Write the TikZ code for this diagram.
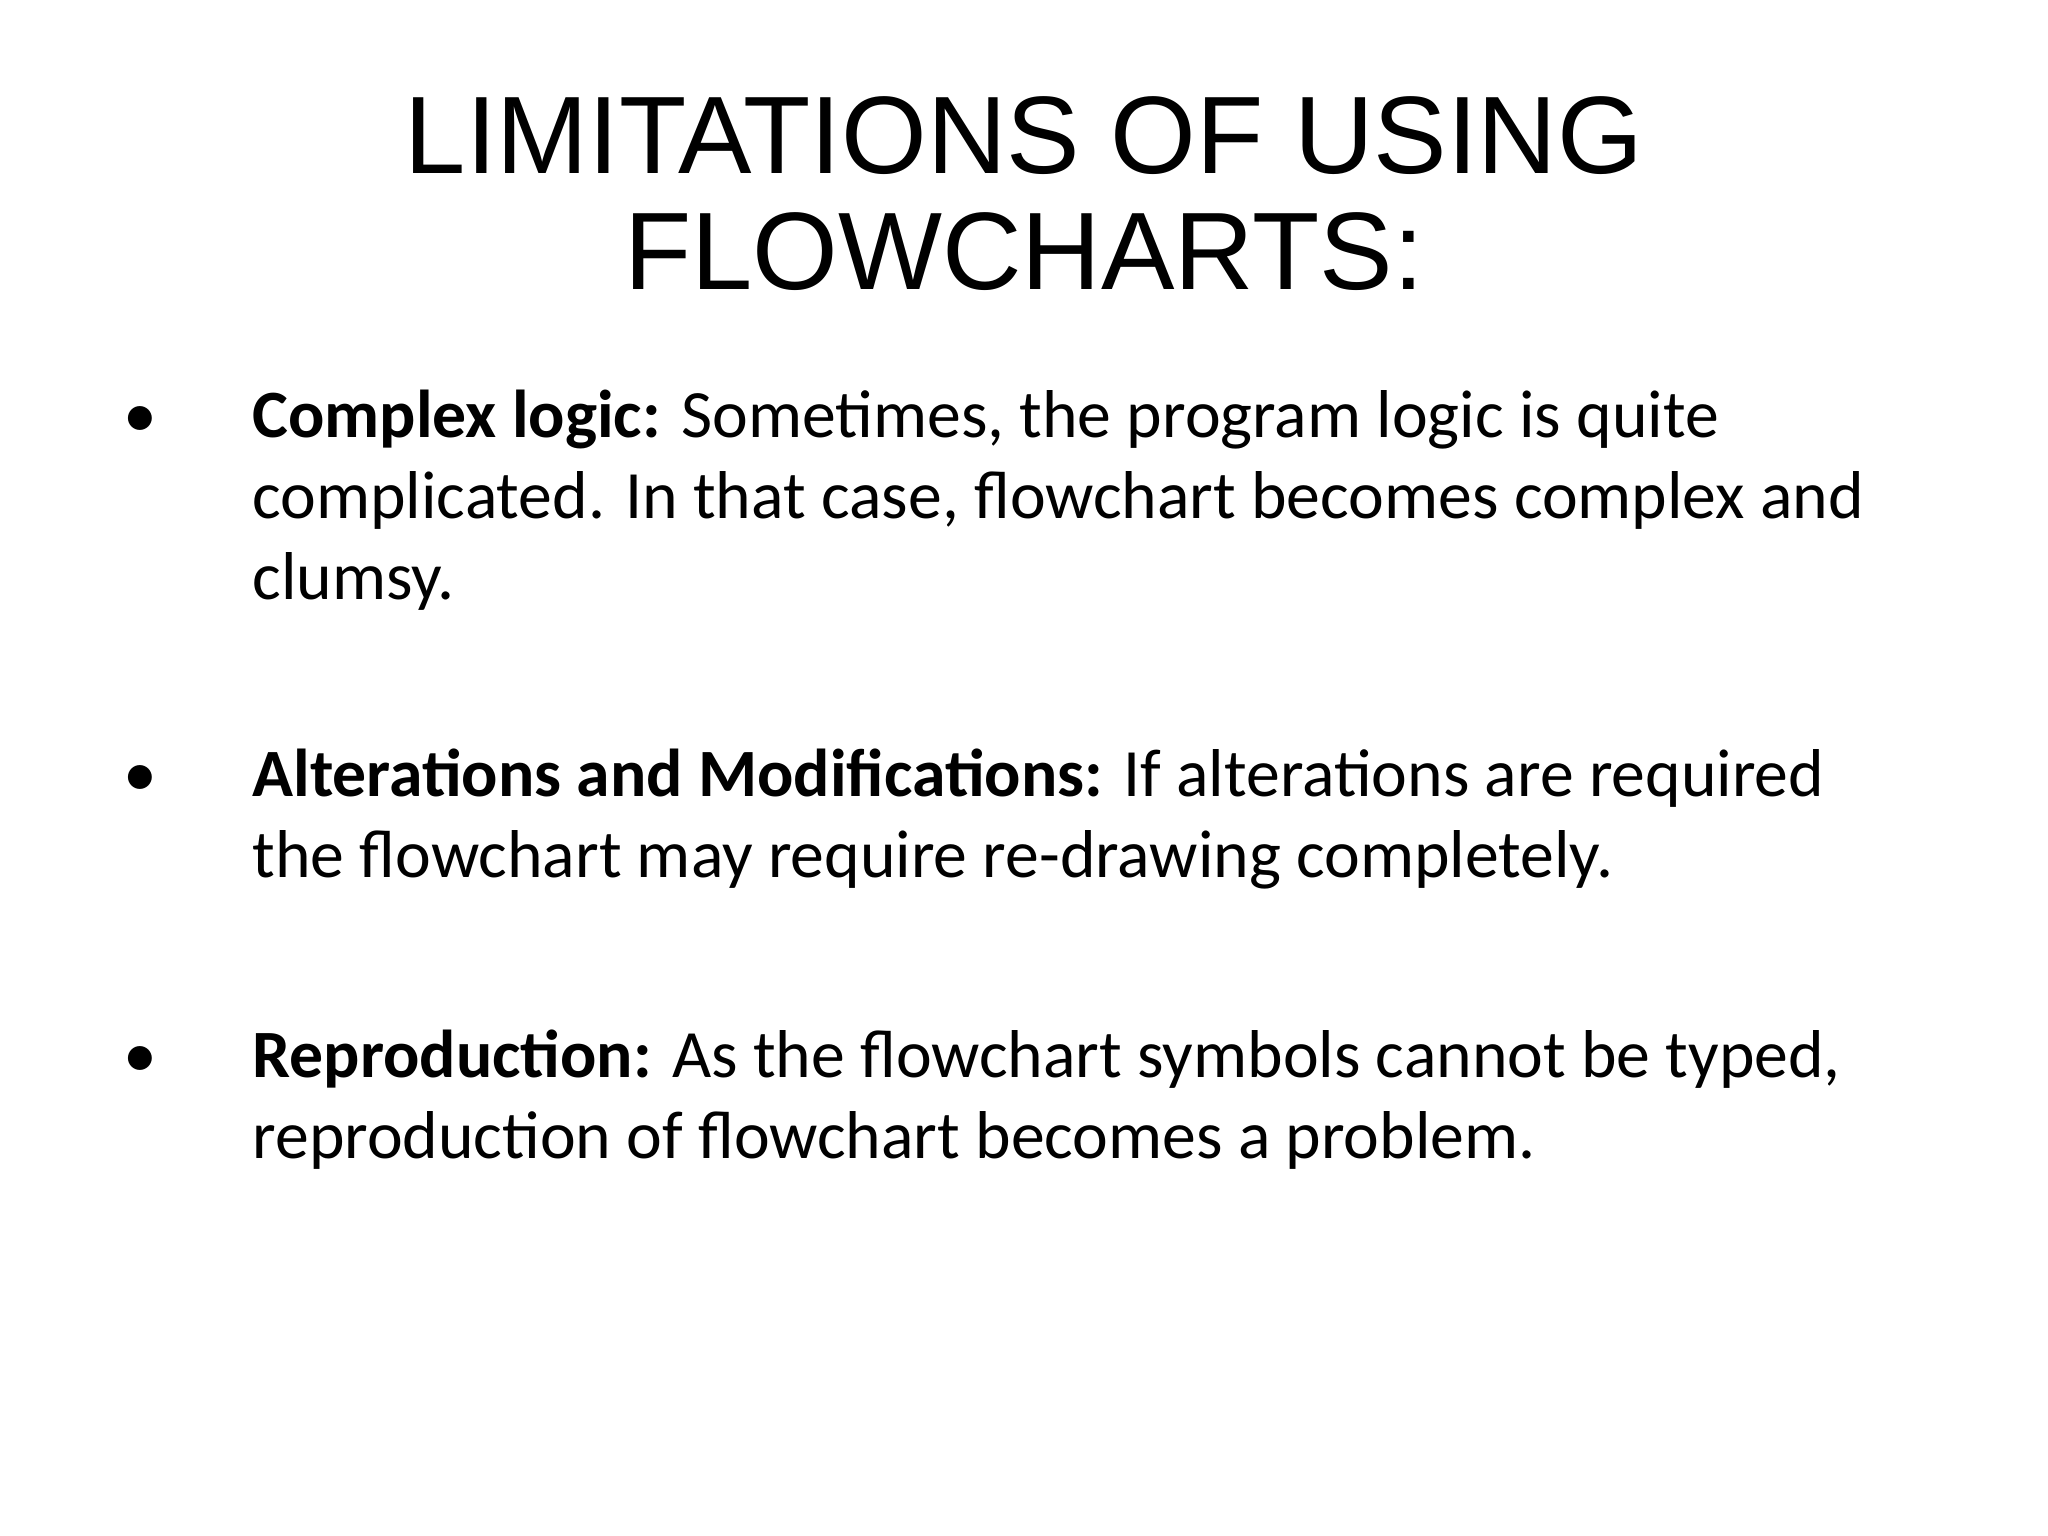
\documentclass[tikz,border=0pt]{standalone}
\usepackage{fontspec}
\setmainfont{Carlito}
\newfontfamily\titlefont{Liberation Sans}
\begin{document}
\begin{tikzpicture}[x=0.02cm,y=-0.02cm,
  ttl/.style={font=\titlefont\fontsize{48}{50}\selectfont,anchor=base,inner sep=0},
  body/.style={font=\fontsize{29.5}{35}\selectfont,anchor=base west,inner sep=0},
  bul/.style={font=\fontsize{29.5}{35}\selectfont,anchor=base west,inner sep=0}]
\useasboundingbox[fill=white] (0,0) rectangle (1568,1176);
\node[ttl] (t1) at (784,133) {LIMITATIONS OF USING};
\node[ttl] (t2) at (784,222) {FLOWCHARTS:};
\node[bul] (b1) at (94,335) {•};
\node[body] (l1) at (193,335) {\textbf{Complex logic:} Sometimes, the program logic is quite};
\node[body] (l2) at (193,397) {complicated. In that case, flowchart becomes complex and};
\node[body] (l3) at (193,459) {clumsy.};
\node[bul] (b2) at (94,610) {•};
\node[body] (l4) at (193,610) {\textbf{Alterations and Modifications:} If alterations are required};
\node[body] (l5) at (193,672) {the flowchart may require re-drawing completely.};
\node[bul] (b3) at (94,825) {•};
\node[body] (l6) at (193,825) {\textbf{Reproduction:} As the flowchart symbols cannot be typed,};
\node[body] (l7) at (193,887) {reproduction of flowchart becomes a problem.};
\end{tikzpicture}
\end{document}
